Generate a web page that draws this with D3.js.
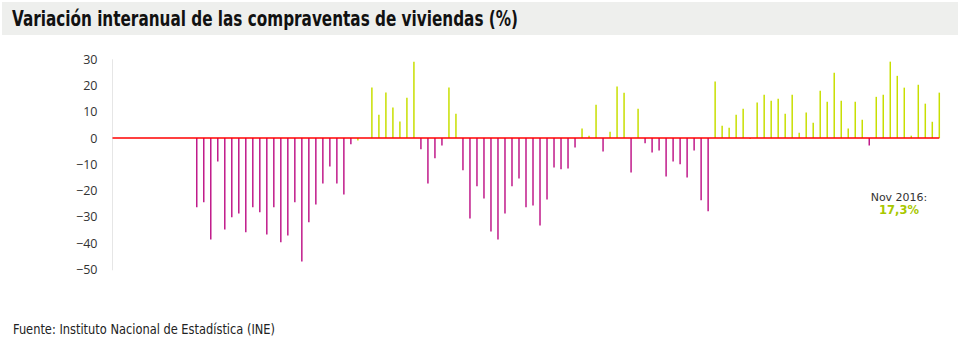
<!DOCTYPE html>
<html lang="es">
<head>
<meta charset="UTF-8" />
<title>Compraventas de viviendas</title>
<script src="https://cdn.jsdelivr.net/npm/d3@7"></script>
<style>
  body { margin: 0; background: #fff; }
  .title { font-family: "DejaVu Sans Condensed", "DejaVu Sans", sans-serif; font-stretch: condensed; font-weight: bold; font-size: 21px; fill: #111; }
  .source { font-family: "DejaVu Sans Condensed", "DejaVu Sans", sans-serif; font-stretch: condensed; font-size: 13.5px; fill: #222; }
  .yaxis text { font-family: "Open Sans", sans-serif; font-size: 12.5px; fill: #333; }
  .note { font-family: "DejaVu Sans", sans-serif; font-size: 11px; fill: #333; }
  .note-val { font-family: "DejaVu Sans", sans-serif; font-size: 11.5px; font-weight: bold; fill: #a8c800; }
</style>
</head>
<body>
<script>
// monthly year-on-year change, Jan 2008 .. Nov 2016 (2007 has no data)
var firstYear = 2007;
var dataStartYear = 2008;
var values = [
  -26.4, -24.5, -38.6, -8.9, -34.8, -30.2, -28.7, -35.9, -26.4, -28.3, -36.7, -26.4,
  -39.7, -37.1, -24.5, -47.0, -32.1, -25.3, -17.3, -10.8, -17.3, -21.5, -2.4, -0.9,
  0, 19.3, 8.9, 17.4, 11.6, 6.3, 15.4, 29.1, -4.3, -17.3, -7.7, -2.8,
  19.3, 9.3, -12.3, -30.6, -18.4, -23.0, -35.6, -38.6, -28.7, -18.4, -15.4, -26.4,
  -25.7, -33.3, -23.4, -11.2, -11.9, -11.6, -3.6, 3.6, 0.9, 12.7, -5.1, 2.4,
  19.6, 17.3, -13.1, 11.2, -2.0, -5.5, -4.7, -14.6, -8.9, -10.0, -15.0, -4.7,
  -23.7, -27.9, 21.5, 4.7, 3.9, 8.9, 11.2, -0.4, 13.5, 16.5, 14.2, 15.0,
  9.3, 16.5, 2.0, 9.7, 5.8, 18.0, 13.8, 24.9, 14.2, 3.6, 13.8, 7.0,
  -2.8, 15.7, 16.5, 29.1, 23.7, 19.2, 0.9, 20.3, 13.1, 6.2, 17.3
];
var yTicks = [30, 20, 10, 0, -10, -20, -30, -40, -50];
var noteLabel = "Nov 2016:";
var noteValue = "17,3%";

var w = 958, h = 354;
var offset = (dataStartYear - firstYear) * 12;
var nSlots = offset + values.length;

var svg = d3.select("body").append("svg")
  .attr("width", w)
  .attr("height", h);

// header band
svg.append("rect")
  .attr("x", 2).attr("y", 2)
  .attr("width", w - 2).attr("height", 33)
  .attr("fill", "#eeefed");

// title squeezed to the width of the condensed original
svg.append("text")
  .attr("class", "title")
  .attr("x", 12).attr("y", 26)
  .attr("textLength", 506)
  .attr("lengthAdjust", "spacingAndGlyphs")
  .text("Variación interanual de las compraventas de viviendas (%)");

var x = d3.scaleLinear()
  .domain([0, nSlots - 1])
  .range([112.7, 939.3]);

var y = d3.scaleLinear()
  .domain([-50, 30])
  .range([269.3, 59.3]);

// y axis: labels only, plus thin grey rule
var yAxis = d3.axisLeft(y)
  .tickValues(yTicks)
  .tickSize(0)
  .tickPadding(0);

var gy = svg.append("g")
  .attr("class", "yaxis")
  .attr("transform", "translate(97.5,0)")
  .call(yAxis);
gy.select(".domain").remove();

svg.append("line")
  .attr("x1", 112.5).attr("x2", 112.5)
  .attr("y1", y(30)).attr("y2", y(-50) + 1)
  .attr("stroke", "#e6e6e6")
  .attr("stroke-width", 1);

// bars
svg.selectAll("line.bar")
  .data(values)
  .enter()
  .append("line")
  .attr("class", "bar")
  .attr("x1", function(d, i) { return x(i + offset) })
  .attr("x2", function(d, i) { return x(i + offset) })
  .attr("y1", y(0))
  .attr("y2", function(d) { return y(d) })
  .attr("stroke", function(d) { return d > -1 ? "#c8df00" : "#c01a8a" })
  .attr("stroke-width", 1.5);

// zero line
svg.append("line")
  .attr("x1", 112.5).attr("x2", x(nSlots - 1))
  .attr("y1", y(0)).attr("y2", y(0))
  .attr("stroke", "#ff0000")
  .attr("stroke-width", 1.6);

// last value note
svg.append("text")
  .attr("class", "note")
  .attr("x", 899).attr("y", 201)
  .attr("text-anchor", "middle")
  .text(noteLabel);

svg.append("text")
  .attr("class", "note-val")
  .attr("x", 899).attr("y", 213.5)
  .attr("text-anchor", "middle")
  .text(noteValue);

svg.append("text")
  .attr("class", "source")
  .attr("x", 13).attr("y", 334)
  .attr("textLength", 262)
  .attr("lengthAdjust", "spacingAndGlyphs")
  .text("Fuente: Instituto Nacional de Estadística (INE)");
</script>
</body>
</html>
